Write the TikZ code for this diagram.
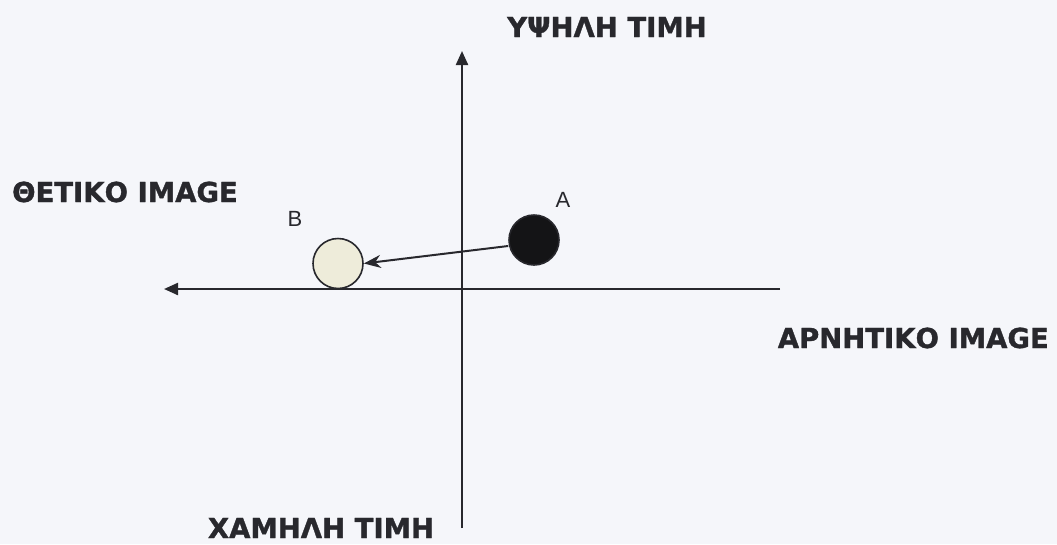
\documentclass[tikz,border=0pt]{standalone}
\usepackage{fontspec}
\setmainfont{DejaVu Sans}
\newfontfamily\titlefont[FakeBold=1.2]{DejaVu Sans Bold}
\newfontfamily\lblfont{Liberation Sans}
\usetikzlibrary{arrows.meta}
\definecolor{bg}{RGB}{245,246,250}
\definecolor{ink}{RGB}{40,40,45}
\definecolor{dark}{RGB}{20,20,22}
\definecolor{cream}{RGB}{238,236,218}
\tikzset{
  axis/.style={draw=ink, line width=2.2pt, -{Triangle[length=14pt,width=12pt]}},
  title/.style={font=\titlefont\fontsize{27.5}{32}\selectfont, text=ink, inner sep=0pt, anchor=base},
  ptlabel/.style={font=\lblfont\fontsize{22}{25}\selectfont, text=ink, inner sep=0pt},
  dot/.style={circle, minimum size=50pt, inner sep=0pt, line width=1.6pt, draw=ink},
  move/.style={draw=ink, line width=2pt, -{Stealth[length=17pt,width=13pt]}}
}
\begin{document}
\begin{tikzpicture}[x=1pt,y=-1pt]
\fill[bg] (0,0) rectangle (1057,544);
\useasboundingbox (0,0) rectangle (1057,544);
\coordinate (vtop) at (462,51);
\coordinate (vbot) at (462,528);
\coordinate (hleft) at (164,289);
\coordinate (hright) at (780,289);
\draw[axis] (vbot) -- (vtop);
\draw[axis] (hright) -- (hleft);
\node[dot, fill=dark] (A) at (534,240) {};
\node[dot, fill=cream] (B) at (338,263.5) {};
\path (A.west) ++(0,6) coordinate (astart);
\draw[move] (astart) -- (B.east);
\node[ptlabel] (la) at (563,200) {A};
\node[ptlabel] (lb) at (295,219) {B};
\node[title] (top) at (607,37) {ΥΨΗΛΗ ΤΙΜΗ};
\node[title, anchor=base west] (left) at (12,202) {ΘΕΤΙΚΟ IMAGE};
\node[title, anchor=base east] (right) at (1049,348) {ΑΡΝΗΤΙΚΟ IMAGE};
\node[title] (bottom) at (321,538) {ΧΑΜΗΛΗ ΤΙΜΗ};
\end{tikzpicture}
\end{document}
